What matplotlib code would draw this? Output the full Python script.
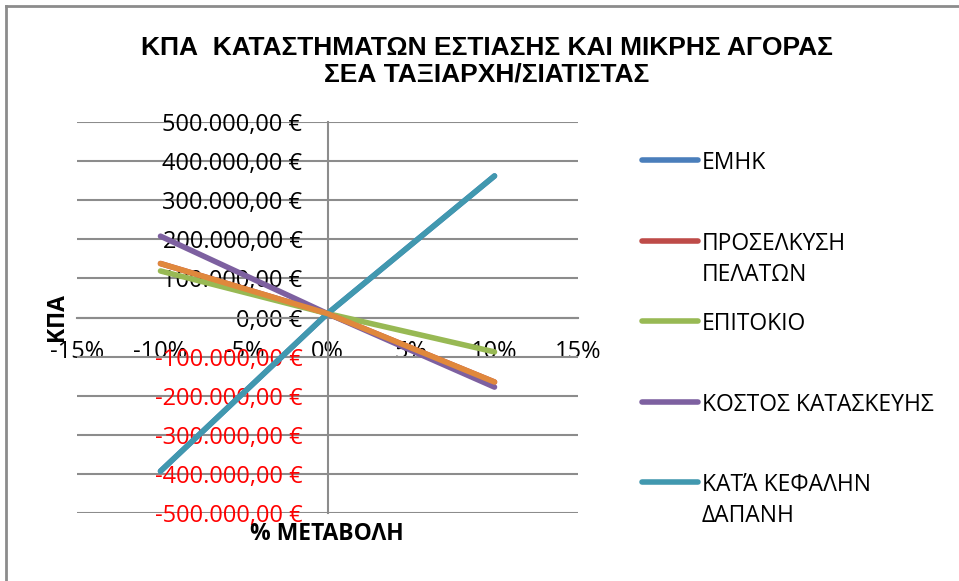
import matplotlib
matplotlib.use("Agg")
import matplotlib.pyplot as plt
from matplotlib.lines import Line2D
from matplotlib.ticker import FuncFormatter

# data
pct = [-0.10, 0.0, 0.10]
emhk = [-393000, 10000, 362000]
proselkysi = [138000, 10000, -165000]
epitokio = [119000, 10000, -88000]
kostos = [208000, 10000, -178000]
kefalin = [-393000, 10000, 362000]
series6 = [138000, 10000, -165000]

labels = ["ΕΜΗΚ", "ΠΡΟΣΕΛΚΥΣΗ\nΠΕΛΑΤΩΝ", "ΕΠΙΤΟΚΙΟ", "ΚΟΣΤΟΣ ΚΑΤΑΣΚΕΥΗΣ", "ΚΑΤΆ ΚΕΦΑΛΗΝ\nΔΑΠΑΝΗ"]
colors = ["#4A7EBB", "#BE4B48", "#98B954", "#7D60A0", "#4198AF"]
orange = "#E0883C"

xticks = [-0.15, -0.10, -0.05, 0.0, 0.05, 0.10, 0.15]
yticks = [-500000, -400000, -300000, -200000, -100000, 0, 100000, 200000, 300000, 400000, 500000]

W, H = 959, 581
plt.rcParams['font.family'] = ['Open Sans', 'DejaVu Sans']

fig = plt.figure(figsize=(W / 100, H / 100), dpi=100)
ax = fig.add_axes([77 / W, 1 - 513 / H, (578 - 77) / W, (513 - 122) / H])

series = [emhk, proselkysi, epitokio, kostos, kefalin]
for vals, c in zip(series, colors):
    ax.plot(pct, vals, color=c, lw=4, solid_capstyle='round', zorder=3)
ax.plot(pct, series6, color=orange, lw=4, solid_capstyle='round', zorder=3)

ax.set_xlim(-0.15, 0.15)
ax.set_ylim(-500000, 500000)
ax.set_xticks(xticks)
ax.set_yticks(yticks)

def eur(v, pos=None):
    s = f"{abs(v):,.2f}".replace(",", "X").replace(".", ",").replace("X", ".")
    return ("-" if v < 0 else "") + s + " €"

ax.yaxis.set_major_formatter(FuncFormatter(eur))
ax.xaxis.set_major_formatter(FuncFormatter(lambda v, p: f"{round(v * 100):d}%"))

for s in ['top', 'right']:
    ax.spines[s].set_visible(False)
ax.spines['left'].set_position(('data', 0))
ax.spines['bottom'].set_position(('data', 0))
for s in ['left', 'bottom']:
    ax.spines[s].set_color('#8c8c8c')
    ax.spines[s].set_linewidth(1.5)
    ax.spines[s].set_zorder(1)

ax.grid(axis='y', color='#8c8c8c', lw=1.5, zorder=1)
ax.set_axisbelow(True)
ax.tick_params(axis='y', length=0, pad=18, labelsize=17)
ax.tick_params(axis='x', length=0, pad=16, labelsize=17)
for lab, v in zip(ax.get_yticklabels(), yticks):
    lab.set_color('red' if v < 0 else 'black')

fig.text(327 / W, 1 - 534 / H, "% ΜΕΤΑΒΟΛΗ", ha='center', va='center', fontsize=16.5, fontweight='bold')
fig.text(57 / W, 1 - 317 / H, "ΚΠΑ", ha='center', va='center', rotation=90, fontsize=16.5, fontweight='bold')

fig.text(487 / W, 1 - 61 / H, "ΚΠΑ  ΚΑΤΑΣΤΗΜΑΤΩΝ ΕΣΤΙΑΣΗΣ ΚΑΙ ΜΙΚΡΗΣ ΑΓΟΡΑΣ\nΣΕΑ ΤΑΞΙΑΡΧΗ/ΣΙΑΤΙΣΤΑΣ",
         ha='center', va='center', fontsize=19, fontweight='bold', family='Liberation Sans', linespacing=1.12)

# legend
leg_y = [160, 241, 321, 402, 482]
for y, c, t in zip(leg_y, colors, labels):
    fig.add_artist(Line2D([642 / W, 698 / W], [1 - y / H, 1 - y / H], color=c, lw=4, solid_capstyle='round'))
    for i, part in enumerate(t.split("\n")):
        fig.text(702 / W, 1 - (y + 31 * i) / H, part, ha='left', va='center_baseline', fontsize=16.5)

# chart border (only left and top are visible in the crop)
fig.add_artist(Line2D([6 / W, 6 / W], [0, 1 - 6 / H], color='#8c8c8c', lw=2))
fig.add_artist(Line2D([6 / W, 1], [1 - 6 / H, 1 - 6 / H], color='#8c8c8c', lw=2))

fig.savefig("out.png", dpi=100)
